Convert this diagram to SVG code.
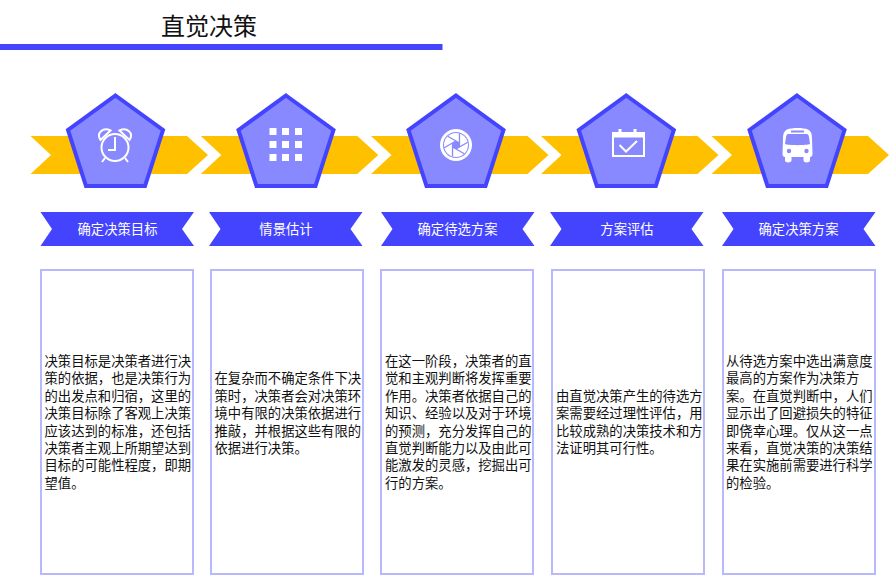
<svg xmlns="http://www.w3.org/2000/svg" xmlns:xlink="http://www.w3.org/1999/xlink" width="896" height="584" viewBox="0 0 896 584">
  <style>
    text { font-family: "Noto Sans CJK SC", "Liberation Sans", sans-serif; }
    .title { font-size: 24px; fill: #111; }
    .label { font-size: 13.33px; fill: #fff; text-anchor: middle; }
    .body { font-size: 13.33px; fill: #111; }
    .chevron { fill: #ffc000; }
    .penta { fill: #8888ff; stroke: #4444ff; stroke-width: 4; stroke-linejoin: miter; }
    .ribbon { fill: #4444ff; }
    .card { fill: #fff; stroke: #b8b8ff; stroke-width: 2; }
    .glyph { fill: none; stroke: #fff; stroke-width: 2; }
    .solid { fill: #fff; }
    .slit { stroke: #8888ff; stroke-width: 1.300; fill: none; }
  </style>
  <defs>
    <polygon id="chev" class="chevron" points="30.500,136 187,136 208,155 187,174 30.500,174 51,155"/>
    <polygon id="pent" class="penta" points="115.500,95.500 163,130 145,186 86,186 68,130"/>
    <polygon id="rib" class="ribbon" points="40.500,212 194,212 182,229 194,246 40.500,246 52,229"/>
    <line id="blade-edge" class="slit" x1="3.460" y1="-2" x2="-8.300" y2="-8.800"/>
  </defs>

  <g id="header">
    <text class="title" x="161" y="35">直觉决策</text>
    <rect x="0" y="44" width="442.500" height="6" fill="#4444ff"/>
  </g>

  <g id="connectors">
    <use xlink:href="#chev"/>
    <use xlink:href="#chev" x="170.300"/>
    <use xlink:href="#chev" x="340.500"/>
    <use xlink:href="#chev" x="510.500"/>
    <use xlink:href="#chev" x="681"/>
  </g>

  <g id="step1">
    <use xlink:href="#pent"/>
    <g class="glyph">
      <circle cx="115" cy="147.500" r="13.500"/>
      <path d="M115 137V150H108"/>
      <path d="M100.500 140C96 133 103 127 110.500 130.500ZM129.500 140C134 133 127 127 119.500 130.500Z"/>
      <path d="M105 158L102 162M125 158L128 162"/>
    </g>
    <use xlink:href="#rib"/>
    <text class="label" x="117.500" y="234">确定决策目标</text>
    <rect class="card" x="41" y="270" width="152" height="304"/>
    <text class="body">
      <tspan x="44.500" y="366">决策目标是决策者进行决</tspan>
      <tspan x="44.500" y="383.400">策的依据，也是决策行为</tspan>
      <tspan x="44.500" y="400.800">的出发点和归宿，这里的</tspan>
      <tspan x="44.500" y="418.200">决策目标除了客观上决策</tspan>
      <tspan x="44.500" y="435.600">应该达到的标准，还包括</tspan>
      <tspan x="44.500" y="453">决策者主观上所期望达到</tspan>
      <tspan x="44.500" y="470.400">目标的可能性程度，即期</tspan>
      <tspan x="44.500" y="487.800">望值。</tspan>
    </text>
  </g>

  <g id="step2">
    <use xlink:href="#pent" x="170.500"/>
    <g class="solid">
      <rect x="269.500" y="128" width="7" height="7"/><rect x="282" y="128" width="7" height="7"/><rect x="295" y="128" width="7" height="7"/>
      <rect x="269.500" y="141" width="7" height="7"/><rect x="282" y="141" width="7" height="7"/><rect x="295" y="141" width="7" height="7"/>
      <rect x="269.500" y="154" width="7" height="7"/><rect x="282" y="154" width="7" height="7"/><rect x="295" y="154" width="7" height="7"/>
    </g>
    <use xlink:href="#rib" x="168.500"/>
    <text class="label" x="286" y="234">情景估计</text>
    <rect class="card" x="211" y="270" width="152" height="304"/>
    <text class="body">
      <tspan x="214.500" y="383.400">在复杂而不确定条件下决</tspan>
      <tspan x="214.500" y="400.800">策时，决策者会对决策环</tspan>
      <tspan x="214.500" y="418.200">境中有限的决策依据进行</tspan>
      <tspan x="214.500" y="435.600">推敲，并根据这些有限的</tspan>
      <tspan x="214.500" y="453">依据进行决策。</tspan>
    </text>
  </g>

  <g id="step3">
    <use xlink:href="#pent" x="340.500"/>
    <circle cx="456" cy="145" r="14.500" fill="none" stroke="#fff" stroke-width="3"/>
    <g transform="translate(456 145)">
      <circle class="solid" r="12"/>
      <use xlink:href="#blade-edge"/>
      <use xlink:href="#blade-edge" transform="rotate(60)"/>
      <use xlink:href="#blade-edge" transform="rotate(120)"/>
      <use xlink:href="#blade-edge" transform="rotate(180)"/>
      <use xlink:href="#blade-edge" transform="rotate(240)"/>
      <use xlink:href="#blade-edge" transform="rotate(300)"/>
      <polygon points="0,-4 3.460,-2 3.460,2 0,4 -3.460,2 -3.460,-2" fill="#8888ff"/>
    </g>
    <use xlink:href="#rib" x="340.500"/>
    <text class="label" x="457.500" y="234">确定待选方案</text>
    <rect class="card" x="381" y="270" width="152" height="304"/>
    <text class="body">
      <tspan x="385" y="366">在这一阶段，决策者的直</tspan>
      <tspan x="385" y="383.400">觉和主观判断将发挥重要</tspan>
      <tspan x="385" y="400.800">作用。决策者依据自己的</tspan>
      <tspan x="385" y="418.200">知识、经验以及对于环境</tspan>
      <tspan x="385" y="435.600">的预测，充分发挥自己的</tspan>
      <tspan x="385" y="453">直觉判断能力以及由此可</tspan>
      <tspan x="385" y="470.400">能激发的灵感，挖掘出可</tspan>
      <tspan x="385" y="487.800">行的方案。</tspan>
    </text>
  </g>

  <g id="step4">
    <use xlink:href="#pent" x="510.800"/>
    <g class="glyph">
      <rect x="613" y="133" width="31" height="23"/>
      <path d="M613 135.500H644" stroke-width="4"/>
      <path d="M620 129V135M635 129V135" stroke-width="3"/>
      <path d="M619.500 145L626 151.500L637 141"/>
    </g>
    <use xlink:href="#rib" x="509.500"/>
    <text class="label" x="627" y="234">方案评估</text>
    <rect class="card" x="552" y="270" width="152" height="304"/>
    <text class="body">
      <tspan x="556" y="400.800">由直觉决策产生的待选方</tspan>
      <tspan x="556" y="418.200">案需要经过理性评估，用</tspan>
      <tspan x="556" y="435.600">比较成熟的决策技术和方</tspan>
      <tspan x="556" y="453">法证明其可行性。</tspan>
    </text>
  </g>

  <g id="step5">
    <use xlink:href="#pent" x="681.500"/>
    <path class="solid" fill-rule="evenodd" d="M787 129.500C792 127.500 803 127.500 808 129.500C811 131 812 134 812 138L812.500 154C812.500 156 811.500 157 810 157V160.500C810 163 803.500 163 803.500 160.500V157H791.500V160.500C791.500 163 785 163 785 160.500V157C783.500 157 782.500 156 782.500 154L783 138C783 134 784 131 787 129.500ZM788 134H807C808 134 808.500 135 809 137L810 144C807 145.500 788 145.500 785 144L786 137C786.500 135 787 134 788 134ZM791 130.500V132.500H804V130.500Z"/>
    <circle cx="789" cy="151" r="2.200" fill="#8888ff"/>
    <circle cx="806.500" cy="151" r="2.200" fill="#8888ff"/>
    <use xlink:href="#rib" x="681.500"/>
    <text class="label" x="798.500" y="234">确定决策方案</text>
    <rect class="card" x="723" y="270" width="152" height="304"/>
    <text class="body">
      <tspan x="726" y="366">从待选方案中选出满意度</tspan>
      <tspan x="726" y="383.400">最高的方案作为决策方</tspan>
      <tspan x="726" y="400.800">案。在直觉判断中，人们</tspan>
      <tspan x="726" y="418.200">显示出了回避损失的特征</tspan>
      <tspan x="726" y="435.600">即侥幸心理。仅从这一点</tspan>
      <tspan x="726" y="453">来看，直觉决策的决策结</tspan>
      <tspan x="726" y="470.400">果在实施前需要进行科学</tspan>
      <tspan x="726" y="487.800">的检验。</tspan>
    </text>
  </g>
</svg>
